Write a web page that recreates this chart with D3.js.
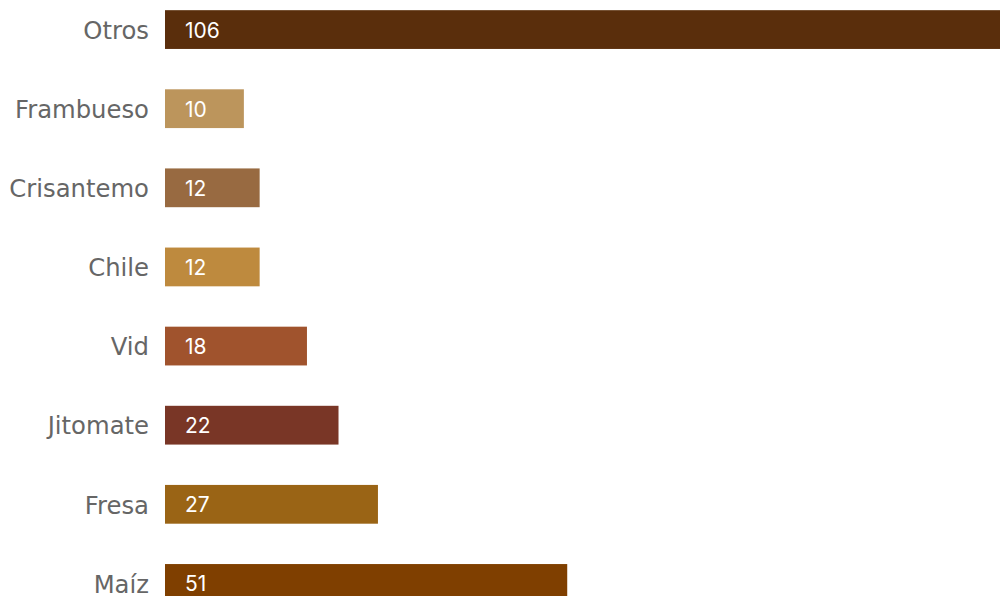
<!doctype html>
<html>
<head>
<meta charset="utf-8">
<script src="https://d3js.org/d3.v7.min.js"></script>
<style>
  body { margin: 0; background: #fff; }
  svg { display: block; }
</style>
</head>
<body>
<svg class="chart"></svg>
<script>
    var categories = ["Otros", "Frambueso", "Crisantemo", "Chile", "Vid", "Jitomate", "Fresa", "Maíz"];
    var values = [106, 10, 12, 12, 18, 22, 27, 51];
    var colors = ["#5a2e0c", "#bc955c", "#986a41", "#be8a3e", "#a0532d", "#793626", "#9a6415", "#7f3f00"];

    var width = 1000,
        height = 596,
        left = 165;

    var data = categories.map((c, i) => ({name: c, value: values[i], color: colors[i]}));

    var svg = d3.select(".chart")
        .attr("width", width)
        .attr("height", height);

    var x = d3.scaleLinear()
        .domain([0, 106])
        .range([left, 1001]);

    var y = d3.scaleBand()
        .domain(categories)
        .range([-10, 623])
        .paddingInner(0.51)
        .paddingOuter(0.255);

    var bar = svg.selectAll("g.bar")
        .data(data)
        .enter()
        .append("g")
        .attr("class", "bar");

    bar.append("rect")
        .attr("x", x(0))
        .attr("y", d => y(d.name))
        .attr("width", d => x(d.value) - x(0))
        .attr("height", y.bandwidth())
        .attr("fill", d => d.color);

    bar.append("text")
        .attr("x", x(0) + 20)
        .attr("y", d => y(d.name) + y.bandwidth() / 2)
        .attr("dy", "0.38em")
        .attr("fill", "#fff")
        .style("font-family", "Inter, 'DejaVu Sans', sans-serif")
        .style("font-size", "21px")
        .text(d => d.value);

    // category labels, drawn as a left axis without the line
    var axis = svg.append("g")
        .attr("transform", `translate(${x(0) - 16}, 0)`)
        .call(d3.axisLeft(y).tickSize(0).tickPadding(0));
    axis.select(".domain").remove();
    axis.selectAll("text")
        .attr("fill", "#666")
        .attr("dy", "0.38em")
        .style("font-family", "'DejaVu Sans', sans-serif")
        .style("font-size", "24.3px");
</script>
</body>
</html>
